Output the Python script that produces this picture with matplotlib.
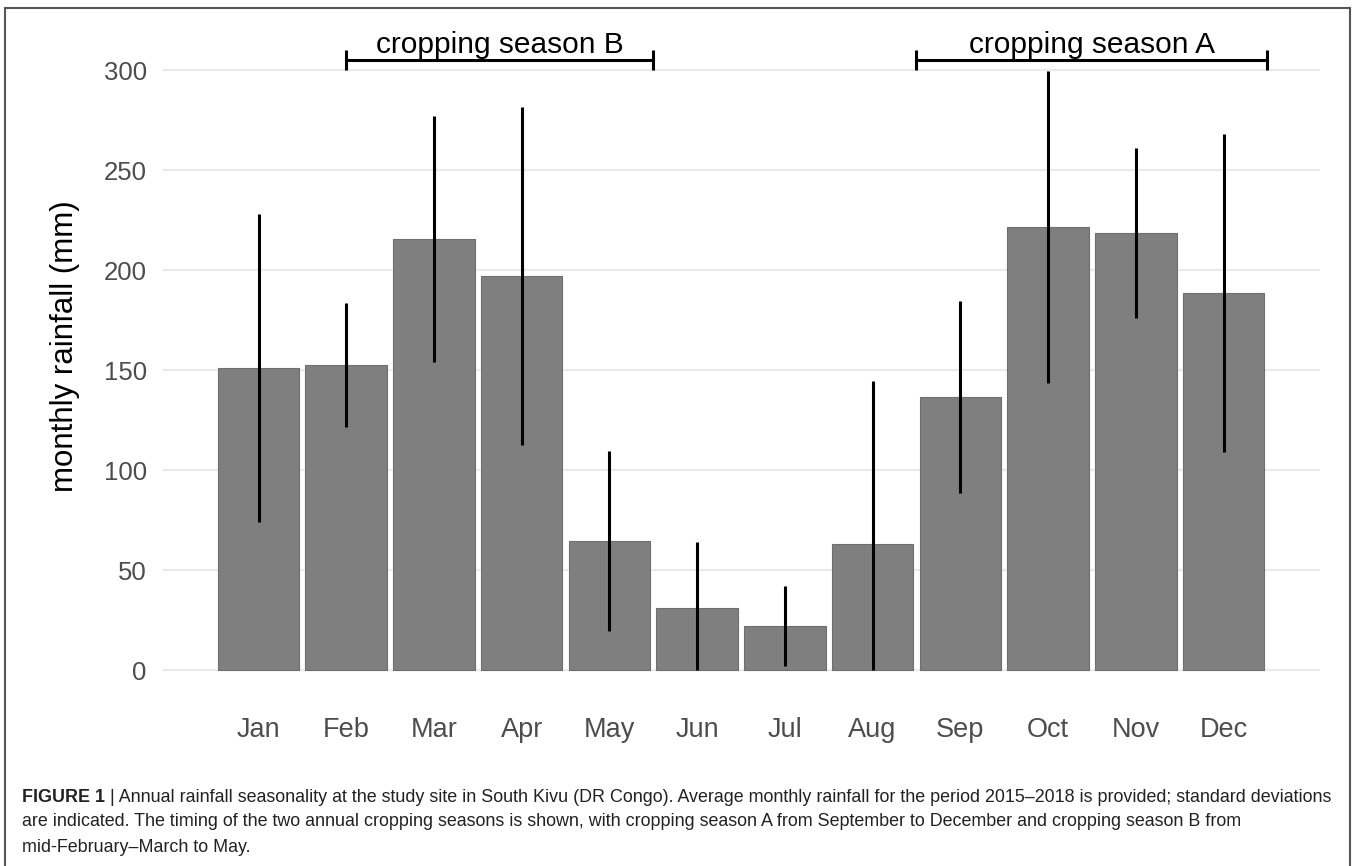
import matplotlib
matplotlib.use("Agg")
import matplotlib.pyplot as plt
from matplotlib.patches import Rectangle

months = ["Jan", "Feb", "Mar", "Apr", "May", "Jun", "Jul", "Aug", "Sep", "Oct", "Nov", "Dec"]
rain_mean = [151, 152.5, 215.5, 197, 64.5, 31, 22, 63, 136.5, 221.5, 218.5, 188.5]
rain_sd = [77, 31, 61.5, 84.5, 45, 33, 20, 81.5, 48, 78, 42.5, 79.5]
season_labels = ["cropping season B", "cropping season A"]
season_start = [1.0, 7.5]
season_end = [4.5, 11.5]
yticks = [0, 50, 100, 150, 200, 250, 300]

W, H = 1357, 866
fig = plt.figure(figsize=(W / 100, H / 100), dpi=100)
fig.patch.set_facecolor("white")

# axes box in pixels
ax_l, ax_r = 162, 1320
ylo, yhi = -16, 316
px_bottom = 670 + 2 * (0 - ylo)
px_top = 670 - 2 * (yhi - 0)
ax = fig.add_axes([ax_l / W, (H - px_bottom) / H, (ax_r - ax_l) / W, (px_bottom - px_top) / H])
ax.set_xlim(-1.1, 12.1)
ax.set_ylim(ylo, yhi)

x = list(range(len(months)))
ax.bar(x, rain_mean, width=0.93, color="#7f7f7f", edgecolor="#6e6e6e", linewidth=0.8, zorder=2)
lower = [max(m - s, 0) for m, s in zip(rain_mean, rain_sd)]
upper = [m + s for m, s in zip(rain_mean, rain_sd)]
ax.vlines(x, lower, upper, color="black", linewidth=2.2, zorder=3)

for lab, s, e in zip(season_labels, season_start, season_end):
    ax.plot([s, e], [305, 305], color="black", lw=2.2, solid_capstyle="butt", zorder=4, clip_on=False)
    ax.plot([s, s], [300, 310], color="black", lw=2.2, solid_capstyle="butt", zorder=4, clip_on=False)
    ax.plot([e, e], [300, 310], color="black", lw=2.2, solid_capstyle="butt", zorder=4, clip_on=False)
    ax.text((s + e) / 2, 305.3, lab, ha="center", va="bottom", fontsize=21.5,
            family="Liberation Sans", color="black", zorder=5)

ax.set_yticks(yticks)
ax.set_xticks(x)
ax.set_xticklabels(months)
ax.grid(axis="y", color="#ebebeb", linewidth=1.6, zorder=0)
ax.grid(axis="x", visible=False)
for sp in ax.spines.values():
    sp.set_visible(False)
ax.tick_params(axis="both", length=0, labelcolor="#4d4d4d")
ax.tick_params(axis="y", pad=11, labelsize=18.5)
ax.tick_params(axis="x", pad=11, labelsize=19.5)
for t in ax.get_xticklabels() + ax.get_yticklabels():
    t.set_family("Liberation Sans")
ax.set_ylabel("monthly rainfall (mm)", fontsize=22.5, family="Liberation Sans", color="black")
ax.yaxis.set_label_coords(-0.071, 0.536)

# figure frame
fig.patches.append(Rectangle((5 / W, -0.01), (1350 - 5) / W, (H - 8) / H + 0.01, transform=fig.transFigure,
                             fill=False, edgecolor="#555555", linewidth=1.5))

# caption
cap_x = 22 / W
cap_font = dict(fontsize=12.9, family="Liberation Sans", color="#222222")
fig.canvas.draw()
renderer = fig.canvas.get_renderer()
t1 = fig.text(cap_x, 1 - 797 / H, "FIGURE 1", fontweight="bold", va="center", ha="left", **cap_font)
bb = t1.get_window_extent(renderer)
fig.text(bb.x1 / W, 1 - 797 / H,
         " | Annual rainfall seasonality at the study site in South Kivu (DR Congo). Average monthly rainfall for the period 2015\u20132018 is provided; standard deviations",
         va="center", ha="left", **cap_font)
fig.text(cap_x, 1 - 822 / H,
         "are indicated. The timing of the two annual cropping seasons is shown, with cropping season A from September to December and cropping season B from",
         va="center", ha="left", **cap_font)
fig.text(cap_x, 1 - 847 / H, "mid-February\u2013March to May.", va="center", ha="left", **cap_font)

fig.savefig("out.png", dpi=100)
